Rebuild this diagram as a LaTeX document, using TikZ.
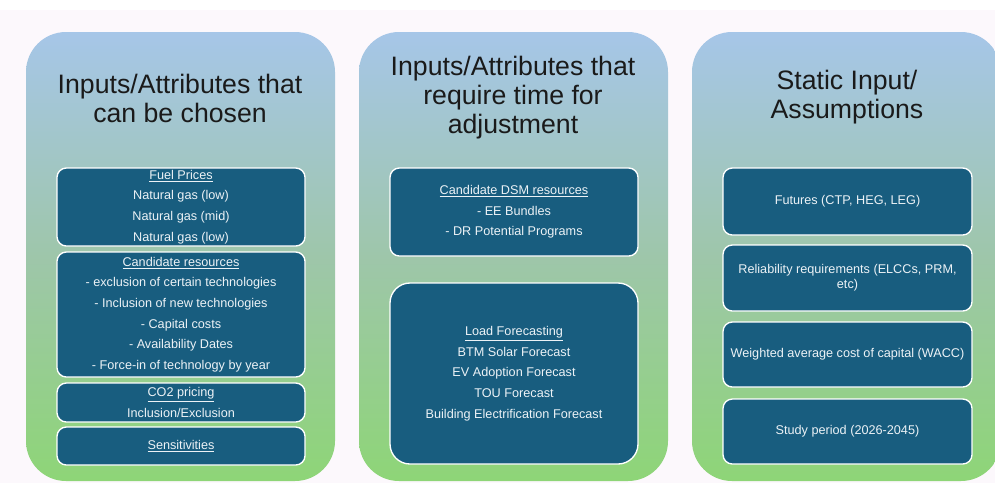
\documentclass[tikz,border=0pt]{standalone}
\usepackage{fontspec}
\setmainfont{Liberation Sans}
\usepackage{xcolor}
\definecolor{boxblue}{RGB}{24,93,127}
\definecolor{topblue}{RGB}{166,198,232}
\definecolor{midgreen}{RGB}{158,198,170}
\definecolor{lowgreen}{RGB}{142,213,119}
\definecolor{pagebg}{RGB}{252,248,252}
\definecolor{boxtext}{RGB}{236,242,246}
\definecolor{titletext}{RGB}{26,26,26}

\begin{document}
\begin{tikzpicture}[x=0.75pt,y=-0.75pt,
  panel/.style={rounded corners=30pt,top color=topblue,bottom color=lowgreen,
    middle color=midgreen,minimum width=231.75pt,minimum height=336.75pt,inner sep=0pt},
  heading/.style={align=center,text=titletext,font=\fontsize{20}{21.75}\selectfont},
  item/.style={draw=white,line width=1pt,fill=boxblue,rounded corners=7pt,
    text=boxtext,align=center,inner sep=0pt,font=\fontsize{9.5}{15.5}\selectfont}]
\clip (0,0) rectangle (995,483);
\fill[white] (0,0) rectangle (995,483);
\fill[pagebg] (0,10) rectangle (995,483);

% panels
\node[panel] (p1) at (180.5,256.5) {};
\node[panel] (p2) at (513.5,256.5) {};
\node[panel] (p3) at (846.5,256.5) {};

% titles
\node[heading] (t1) at (180,98.5) {Inputs/Attributes that\\can be chosen};
\node[heading] (t2) at (513,98) {Inputs/Attributes that\\require time for\\adjustment};
\node[heading] (t3) at (847,97.5) {Static Input/\\Assumptions};

% first column
\node[item,minimum width=186pt,minimum height=58.5pt] (fuel) at (181,207)
  {\underline{Fuel Prices}\\Natural gas (low)\\Natural gas (mid)\\Natural gas (low)};
\node[item,minimum width=186pt,minimum height=93.75pt] (cand) at (181,314.5)
  {\underline{Candidate resources}\\- exclusion of certain technologies\\- Inclusion of new technologies\\- Capital costs\\- Availability Dates\\- Force-in of technology by year};
\node[item,minimum width=186pt,minimum height=29.25pt] (co2) at (181,402.5)
  {\underline{CO2 pricing}\\Inclusion/Exclusion};
\node[item,minimum width=186pt,minimum height=28.5pt] (sens) at (181,446)
  {\underline{Sensitivities}};

% second column
\node[item,minimum width=186pt,minimum height=66pt] (dsm) at (514,212)
  {\underline{Candidate DSM resources}\\- EE Bundles\\- DR Potential Programs};
\node[item,rounded corners=15pt,minimum width=186pt,minimum height=135.75pt] (load) at (514,373.5)
  {\underline{Load Forecasting}\\BTM Solar Forecast\\EV Adoption Forecast\\TOU Forecast\\Building Electrification Forecast};

% third column
\node[item,minimum width=186.75pt,minimum height=50.25pt] (fut) at (847.5,201.5)
  {Futures (CTP, HEG, LEG)};
\node[item,minimum width=186.75pt,minimum height=49.5pt,font=\fontsize{9.5}{11.25}\selectfont] (rel) at (847.5,278)
  {Reliability requirements (ELCCs, PRM,\\etc)};
\node[item,minimum width=186.75pt,minimum height=48.75pt] (wacc) at (847.5,354.5)
  {Weighted average cost of capital (WACC)};
\node[item,minimum width=186.75pt,minimum height=48.75pt] (study) at (847.5,431.5)
  {Study period (2026-2045)};
\end{tikzpicture}
\end{document}
